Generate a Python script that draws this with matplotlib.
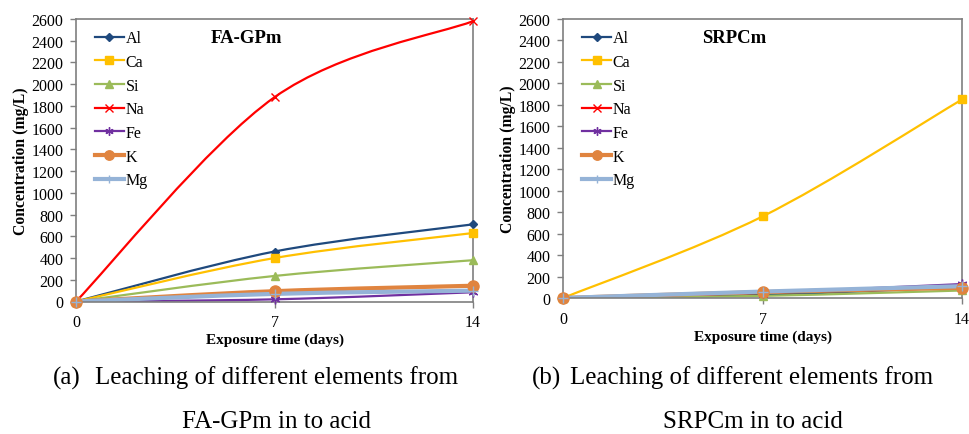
import numpy as np
import matplotlib
matplotlib.use("Agg")
from matplotlib import pyplot as plt
from matplotlib.path import Path
from matplotlib.patches import PathPatch
from matplotlib.lines import Line2D

plt.rcParams['font.family'] = ['Liberation Serif', 'DejaVu Serif']

# exposure time (days)
days = [0, 7, 14]
elements = ["Al", "Ca", "Si", "Na", "Fe", "K", "Mg"]

# leaching concentration (mg/L), FA-GPm
fa_al = [0, 460, 710]
fa_ca = [0, 400, 630]
fa_si = [0, 235, 380]
fa_na = [0, 1880, 2580]
fa_fe = [0, 20, 85]
fa_k = [0, 95, 145]
fa_mg = [0, 70, 100]

# leaching concentration (mg/L), SRPCm
sr_al = [0, 30, 100]
sr_ca = [0, 760, 1850]
sr_si = [0, 20, 70]
sr_na = [0, 50, 100]
sr_fe = [0, 50, 130]
sr_k = [0, 55, 95]
sr_mg = [0, 60, 110]

styles = {
    "Al": dict(color="#1f497d", marker="D", ms=4.5, lw=1.6),
    "Ca": dict(color="#ffc000", marker="s", ms=6, lw=1.6),
    "Si": dict(color="#9bbb59", marker="^", ms=6, lw=1.6),
    "Na": dict(color="#ff0000", marker="x", ms=6, lw=1.6),
    "Fe": dict(color="#7030a0", marker=(6, 2, 0), ms=7, lw=1.6),
    "K": dict(color="#e0843f", marker="o", ms=8, lw=3.0),
    "Mg": dict(color="#95b3d7", marker="+", ms=7, lw=3.0),
}

W, H = 969, 435


def SmoothPath(x, y):
    """ Excel-like smoothed line through the points (cubic bezier) """
    p = np.column_stack([x, y]).astype(float)
    n = len(p)
    verts = [p[0]]
    codes = [Path.MOVETO]
    for i in range(n - 1):
        pm = p[max(i - 1, 0)]
        pn = p[min(i + 2, n - 1)]
        c1 = p[i] + (p[i + 1] - pm) / 6.0
        c2 = p[i + 1] - (pn - p[i]) / 6.0
        verts += [c1, c2, p[i + 1]]
        codes += [Path.CURVE4] * 3
    return Path(verts, codes)


def Panel(fig, box, series, title):
    l, t, r, b = box
    ax = fig.add_axes([l / W, 1 - b / H, (r - l) / W, (b - t) / H])
    handles = []
    for name, vals in zip(elements, series):
        st = styles[name]
        ax.add_patch(PathPatch(SmoothPath(days, vals), fill=False,
                               edgecolor=st["color"], lw=st["lw"], zorder=2))
        ax.plot(days, vals, ls="none", marker=st["marker"], ms=st["ms"],
                color=st["color"], mec=st["color"], zorder=3, clip_on=False)
        handles.append(Line2D([], [], color=st["color"], lw=st["lw"],
                              marker=st["marker"], ms=st["ms"] * 0.85, mec=st["color"]))
    ax.set_xlim(0, 14)
    ax.set_ylim(0, 2600)
    ax.set_xticks(days)
    ax.set_yticks(np.arange(0, 2601, 200))
    ax.tick_params(labelsize=11.5, length=4, width=1, color="#7f7f7f", pad=5)
    for s in ax.spines.values():
        s.set_color("#7f7f7f")
        s.set_linewidth(1.2)
    ax.set_ylabel("Concentration (mg/L)", fontsize=11.3, fontweight="bold", labelpad=2)
    ax.set_xlabel("Exposure time (days)", fontsize=11, fontweight="bold", labelpad=2)
    ax.text(0.43, 0.935, title, transform=ax.transAxes, ha="center", va="center",
            fontsize=13.5, fontweight="bold")
    ax.legend(handles, elements, loc="upper left", bbox_to_anchor=(0.02, 1.0),
              frameon=False, fontsize=11.5, handlelength=1.8, handletextpad=0.1,
              labelspacing=0.48, borderaxespad=0.3)
    return ax


fig = plt.figure(figsize=(W / 100, H / 100), dpi=100)

Panel(fig, (76, 20, 473, 302.5),
      [fa_al, fa_ca, fa_si, fa_na, fa_fe, fa_k, fa_mg], "FA-GPm")
Panel(fig, (563, 20, 962, 299),
      [sr_al, sr_ca, sr_si, sr_na, sr_fe, sr_k, sr_mg], "SRPCm")

# sub-figure captions
cap = dict(fontsize=18, va="center")
fig.text(53 / W, 1 - 378 / H, "(a)", ha="left", **cap)
fig.text(277 / W, 1 - 378 / H, "Leaching of different elements from", ha="center", **cap)
fig.text(277 / W, 1 - 422 / H, "FA-GPm in to acid", ha="center", **cap)
fig.text(532 / W, 1 - 378 / H, "(b)", ha="left", **cap)
fig.text(752 / W, 1 - 378 / H, "Leaching of different elements from", ha="center", **cap)
fig.text(753 / W, 1 - 422 / H, "SRPCm in to acid", ha="center", **cap)

fig.savefig("out.png", dpi=100)
